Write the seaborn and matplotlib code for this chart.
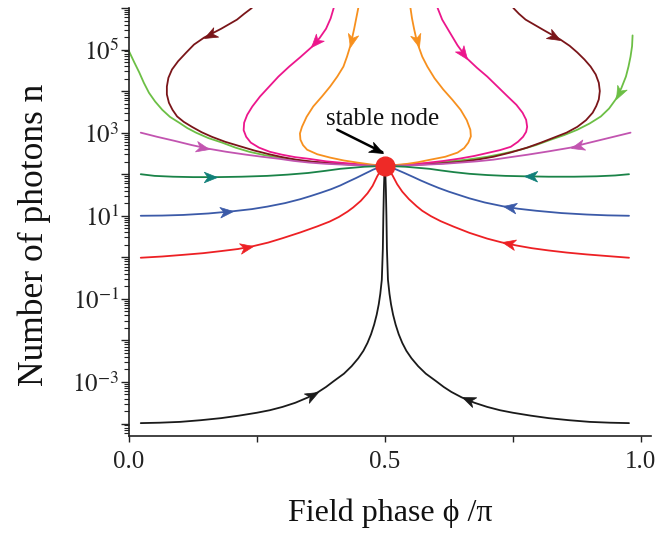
import numpy as np
import matplotlib
matplotlib.use("Agg")
import matplotlib.pyplot as plt
import seaborn as sns
from matplotlib.path import Path
from matplotlib.markers import MarkerStyle
from matplotlib.transforms import Affine2D
from matplotlib.ticker import FixedLocator, FuncFormatter, NullFormatter

# ---------------- data (phase phi/pi, log10 of photon number) ----------------
black_l_phi = [0.023, 0.06, 0.10, 0.14, 0.18, 0.215, 0.25, 0.275, 0.30, 0.325, 0.35, 0.37, 0.385, 0.40, 0.42,
               0.435, 0.448, 0.458, 0.466, 0.473, 0.479, 0.484, 0.488, 0.491, 0.494, 0.496, 0.497, 0.498, 0.499, 0.5]
black_l_lgn = [-3.99, -3.98, -3.96, -3.92, -3.87, -3.81, -3.74, -3.68, -3.6, -3.5, -3.37, -3.24, -3.12, -2.98, -2.80,
               -2.62, -2.43, -2.25, -2.06, -1.85, -1.62, -1.38, -1.13, -0.88, -0.54, 0.2, 1.0, 1.6, 2.0, 2.2]
black_r_phi = [0.977, 0.94, 0.90, 0.86, 0.82, 0.785, 0.75, 0.725, 0.70, 0.675, 0.65, 0.63, 0.615, 0.60, 0.58,
               0.565, 0.552, 0.542, 0.534, 0.527, 0.521, 0.516, 0.512, 0.509, 0.506, 0.504, 0.503, 0.502, 0.501, 0.5]
black_r_lgn = [-3.99, -3.98, -3.96, -3.92, -3.87, -3.81, -3.74, -3.68, -3.6, -3.5, -3.37, -3.24, -3.12, -2.98, -2.80,
               -2.62, -2.43, -2.25, -2.06, -1.85, -1.62, -1.38, -1.13, -0.88, -0.54, 0.2, 1.0, 1.6, 2.0, 2.2]

red_l_phi = [0.023, 0.065, 0.106, 0.145, 0.18, 0.213, 0.243, 0.272, 0.30, 0.335, 0.368, 0.392, 0.41, 0.427,
             0.438, 0.453, 0.466, 0.476, 0.485, 0.493, 0.5]
red_l_lgn = [-0.01, 0.02, 0.06, 0.10, 0.15, 0.20, 0.27, 0.355, 0.46, 0.60, 0.745, 0.86, 0.97, 1.10,
             1.20, 1.36, 1.54, 1.72, 1.95, 2.12, 2.2]
red_r_phi = [0.977, 0.935, 0.894, 0.855, 0.82, 0.787, 0.757, 0.728, 0.70, 0.665, 0.634, 0.609, 0.59, 0.573,
             0.562, 0.547, 0.534, 0.524, 0.515, 0.507, 0.5]
red_r_lgn = [-0.01, 0.03, 0.07, 0.115, 0.165, 0.22, 0.285, 0.36, 0.45, 0.59, 0.74, 0.87, 0.99, 1.12,
             1.23, 1.40, 1.58, 1.76, 1.97, 2.13, 2.2]

blue_l_phi = [0.023, 0.065, 0.106, 0.155, 0.204, 0.24, 0.27, 0.305, 0.335, 0.355, 0.375, 0.395, 0.413, 0.43,
              0.444, 0.462, 0.477, 0.49, 0.5]
blue_l_lgn = [1.0, 1.005, 1.02, 1.055, 1.11, 1.16, 1.22, 1.305, 1.40, 1.475, 1.555, 1.64, 1.73, 1.83,
              1.91, 2.02, 2.11, 2.17, 2.2]
blue_r_phi = [0.977, 0.935, 0.894, 0.845, 0.796, 0.76, 0.73, 0.695, 0.665, 0.645, 0.625, 0.605, 0.587, 0.57,
              0.556, 0.538, 0.523, 0.51, 0.5]
blue_r_lgn = [1.0, 1.01, 1.03, 1.065, 1.12, 1.17, 1.23, 1.32, 1.42, 1.50, 1.58, 1.67, 1.76, 1.85,
              1.93, 2.03, 2.11, 2.17, 2.2]

teal_l_phi = [0.023, 0.05, 0.086, 0.125, 0.172, 0.22, 0.27, 0.31, 0.35, 0.383, 0.413, 0.46, 0.5]
teal_l_lgn = [2.0, 1.96, 1.94, 1.93, 1.93, 1.94, 1.96, 1.99, 2.03, 2.08, 2.13, 2.18, 2.2]
teal_r_phi = [0.977, 0.95, 0.914, 0.87, 0.82, 0.771, 0.735, 0.70, 0.665, 0.635, 0.61, 0.587, 0.54, 0.5]
teal_r_lgn = [2.0, 1.97, 1.95, 1.94, 1.94, 1.95, 1.96, 1.98, 2.01, 2.05, 2.09, 2.13, 2.18, 2.2]

purple_l_phi = [0.023, 0.055, 0.09, 0.123, 0.157, 0.19, 0.229, 0.26, 0.294, 0.322, 0.352, 0.385, 0.42, 0.46, 0.5]
purple_l_lgn = [3.0, 2.9, 2.8, 2.70, 2.61, 2.54, 2.47, 2.42, 2.37, 2.32, 2.28, 2.25, 2.23, 2.21, 2.2]
purple_r_phi = [0.98, 0.95, 0.92, 0.89, 0.863, 0.82, 0.779, 0.745, 0.712, 0.68, 0.648, 0.615, 0.58, 0.54, 0.5]
purple_r_lgn = [3.0, 2.91, 2.82, 2.73, 2.64, 2.55, 2.47, 2.41, 2.35, 2.31, 2.28, 2.25, 2.23, 2.21, 2.2]

green_l_phi = [0.0, 0.01, 0.02, 0.029, 0.039, 0.051, 0.065, 0.08, 0.098, 0.114, 0.131, 0.155, 0.182, 0.208,
               0.235, 0.264, 0.294, 0.322, 0.352, 0.385, 0.42, 0.46, 0.5]
green_l_lgn = [4.96, 4.70, 4.45, 4.20, 3.96, 3.75, 3.55, 3.38, 3.24, 3.11, 3.0, 2.87, 2.76, 2.64,
               2.54, 2.46, 2.40, 2.34, 2.30, 2.27, 2.24, 2.22, 2.2]
green_r_phi = [0.984, 0.983, 0.98, 0.976, 0.971, 0.962, 0.951, 0.938, 0.922, 0.90, 0.876, 0.85, 0.824, 0.795,
               0.765, 0.733, 0.70, 0.66, 0.62, 0.585, 0.55, 0.5]
green_r_lgn = [5.34, 5.08, 4.83, 4.59, 4.35, 4.07, 3.8, 3.58, 3.39, 3.22, 3.07, 2.94, 2.83, 2.70,
               2.59, 2.50, 2.42, 2.35, 2.30, 2.26, 2.23, 2.2]

dred_l_phi = [0.24, 0.225, 0.211, 0.18, 0.147, 0.127, 0.112, 0.096, 0.084, 0.077, 0.074, 0.074, 0.078, 0.085,
              0.094, 0.107, 0.123, 0.142, 0.162, 0.188, 0.215, 0.245, 0.274, 0.30, 0.327, 0.36, 0.40, 0.45, 0.5]
dred_l_lgn = [6.0, 5.86, 5.72, 5.5, 5.29, 5.12, 4.93, 4.72, 4.52, 4.32, 4.11, 3.92, 3.72, 3.55,
              3.39, 3.26, 3.14, 3.01, 2.90, 2.78, 2.68, 2.57, 2.48, 2.41, 2.35, 2.30, 2.26, 2.22, 2.2]
dred_r_phi = [0.751, 0.762, 0.775, 0.81, 0.843, 0.861, 0.876, 0.890, 0.902, 0.912, 0.918, 0.92, 0.918, 0.913,
              0.906, 0.893, 0.876, 0.855, 0.83, 0.805, 0.778, 0.745, 0.712, 0.68, 0.648, 0.61, 0.58, 0.54, 0.5]
dred_r_lgn = [6.0, 5.86, 5.72, 5.47, 5.24, 5.09, 4.93, 4.76, 4.59, 4.40, 4.2, 4.0, 3.8, 3.64,
              3.48, 3.30, 3.14, 3.0, 2.88, 2.76, 2.64, 2.52, 2.42, 2.35, 2.30, 2.26, 2.24, 2.21, 2.2]

pink_l_phi = [0.40, 0.394, 0.385, 0.372, 0.356, 0.335, 0.313, 0.292, 0.274, 0.256, 0.241, 0.231, 0.225, 0.224,
              0.229, 0.238, 0.254, 0.275, 0.299, 0.325, 0.352, 0.385, 0.42, 0.46, 0.5]
pink_l_lgn = [6.0, 5.75, 5.5, 5.27, 5.05, 4.82, 4.59, 4.35, 4.11, 3.87, 3.63, 3.43, 3.24, 3.06,
              2.90, 2.76, 2.64, 2.54, 2.47, 2.41, 2.37, 2.31, 2.27, 2.23, 2.2]
pink_r_phi = [0.603, 0.612, 0.625, 0.642, 0.661, 0.68, 0.70, 0.72, 0.74, 0.757, 0.769, 0.776, 0.778, 0.776,
              0.77, 0.76, 0.746, 0.725, 0.70, 0.675, 0.648, 0.615, 0.58, 0.54, 0.5]
pink_r_lgn = [6.0, 5.72, 5.45, 5.1, 4.78, 4.56, 4.35, 4.11, 3.87, 3.67, 3.48, 3.31, 3.14, 3.02,
              2.90, 2.78, 2.66, 2.58, 2.51, 2.44, 2.38, 2.32, 2.27, 2.23, 2.2]

orange_l_phi = [0.448, 0.444, 0.44, 0.436, 0.432, 0.426, 0.419, 0.407, 0.393, 0.377, 0.36, 0.347, 0.338, 0.334,
                0.335, 0.34, 0.348, 0.368, 0.393, 0.42, 0.446, 0.475, 0.5]
orange_l_lgn = [6.0, 5.75, 5.5, 5.28, 5.07, 4.83, 4.59, 4.35, 4.11, 3.87, 3.63, 3.38, 3.14, 2.98,
                2.83, 2.70, 2.59, 2.48, 2.40, 2.33, 2.28, 2.23, 2.2]
orange_r_phi = [0.55, 0.553, 0.557, 0.561, 0.566, 0.573, 0.583, 0.597, 0.614, 0.632, 0.648, 0.66, 0.667, 0.668,
                0.663, 0.655, 0.642, 0.618, 0.589, 0.565, 0.544, 0.52, 0.5]
orange_r_lgn = [6.0, 5.75, 5.5, 5.28, 5.07, 4.83, 4.59, 4.31, 4.04, 3.79, 3.55, 3.30, 3.07, 2.91,
                2.76, 2.63, 2.52, 2.42, 2.35, 2.29, 2.25, 2.22, 2.2]

node_phi = 0.5
node_lgn = 2.2

x_ticks = [0.0, 0.5, 1.0]
x_tick_labels = ["0.0", "0.5", "1.0"]
y_label_exps = [-3, -1, 1, 3, 5]

# (phi, lgn, line colour, arrow colour, arrow index or None)
curves = [
    (green_l_phi, green_l_lgn, "#6cbf45", "#6cbf45", None),
    (green_r_phi, green_r_lgn, "#6cbf45", "#6cbf45", 6),
    (dred_l_phi, dred_l_lgn, "#7a1519", "#7a1519", 4),
    (dred_r_phi, dred_r_lgn, "#7a1519", "#7a1519", 4),
    (pink_l_phi, pink_l_lgn, "#ec168c", "#ec168c", 4),
    (pink_r_phi, pink_r_lgn, "#ec168c", "#ec168c", 4),
    (orange_l_phi, orange_l_lgn, "#f7901e", "#f7901e", 4),
    (orange_r_phi, orange_r_lgn, "#f7901e", "#f7901e", 4),
    (purple_l_phi, purple_l_lgn, "#c254b0", "#c254b0", 4),
    (purple_r_phi, purple_r_lgn, "#c254b0", "#c254b0", 4),
    (teal_l_phi, teal_l_lgn, "#1a8348", "#108079", 4),
    (teal_r_phi, teal_r_lgn, "#1a8348", "#108079", 5),
    (blue_l_phi, blue_l_lgn, "#3b5aa8", "#3b5aa8", 4),
    (blue_r_phi, blue_r_lgn, "#3b5aa8", "#3b5aa8", 6),
    (red_l_phi, red_l_lgn, "#ed2024", "#ed2024", 6),
    (red_r_phi, red_r_lgn, "#ed2024", "#ed2024", 7),
    (black_l_phi, black_l_lgn, "#1a1a1a", "#1a1a1a", 11),
    (black_r_phi, black_r_lgn, "#1a1a1a", "#1a1a1a", 10),
]

# ---------------- style ----------------
sns.set_theme(style="ticks")
plt.rcParams["font.family"] = ["Liberation Serif", "DejaVu Serif"]
plt.rcParams["mathtext.fontset"] = "stix"

fig = plt.figure(figsize=(6.72, 5.33), dpi=100)
ax = fig.add_axes([129 / 672, 1 - 436 / 533, (651 - 129) / 672, (436 - 8) / 533])

for phi, lgn, col, acol, ai in curves:
    sns.lineplot(x=np.array(phi), y=10.0 ** np.array(lgn), sort=False, estimator=None,
                 color=col, lw=1.3, ax=ax, legend=False, solid_joinstyle="round")

ax.set_yscale("log")
ax.set_xlim(0, 1.02)
ax.set_ylim(10 ** -4.3, 1e6)

# stealth arrowhead marker (tip at origin, pointing +x)
stealth = Path([(0, 0), (-1, 0.40), (-0.72, 0), (-1, -0.40), (0, 0)],
               [Path.MOVETO, Path.LINETO, Path.LINETO, Path.LINETO, Path.CLOSEPOLY])


def head(x_tip, y_tip, x_from, y_from, color, size=19):
    p0 = ax.transData.transform((x_from, y_from))
    p1 = ax.transData.transform((x_tip, y_tip))
    ang = np.degrees(np.arctan2(p1[1] - p0[1], p1[0] - p0[0]))
    m = MarkerStyle(stealth, transform=Affine2D().rotate_deg(ang))
    ax.plot([x_tip], [y_tip], marker=m, ms=size, color=color, mec=color, mew=0.5,
            ls="none", zorder=6)


for phi, lgn, col, acol, ai in curves:
    if ai is None:
        continue
    n = 10.0 ** np.array(lgn)
    head(phi[ai], n[ai], phi[ai - 1], n[ai - 1], acol)

# stable node
ax.plot([node_phi], [10 ** node_lgn], "o", ms=13.5, color="#ee2a27", zorder=7)

# annotation
ax.text(0.496, 10 ** 3.19, "stable node", ha="center", va="baseline", fontsize=18, color="#111111")
ax.plot([0.407, 0.495], [10 ** 3.07, 10 ** 2.53], color="black", lw=1.8, zorder=6)
head(0.497, 10 ** 2.52, 0.407, 10 ** 3.07, "black", size=20)

# ticks
ax.yaxis.set_major_locator(FixedLocator([10.0 ** k for k in range(-4, 7)]))
ax.yaxis.set_major_formatter(FuncFormatter(
    lambda v, p: (r"$10^{%d}$" % int(round(np.log10(v)))) if int(round(np.log10(v))) in y_label_exps else ""))
ax.yaxis.set_minor_locator(FixedLocator([m * 10.0 ** k for k in range(-5, 7) for m in range(2, 10)]))
ax.yaxis.set_minor_formatter(NullFormatter())
ax.set_xticks(x_ticks)
ax.set_xticklabels(x_tick_labels)
ax.set_xticks([0.25, 0.75], minor=True)

ax.tick_params(axis="y", which="major", direction="out", length=6, width=1.0, labelsize=18, pad=1, colors="#222222")
ax.tick_params(axis="y", which="minor", direction="out", length=3.5, width=0.8, colors="#222222")
ax.tick_params(axis="x", which="major", direction="out", length=4.5, width=1.0, labelsize=18, pad=6, colors="#222222")
ax.tick_params(axis="x", which="minor", direction="out", length=4.5, width=1.0, colors="#222222")
for lab in ax.get_xticklabels() + ax.get_yticklabels():
    lab.set_color("#222222")

for s in ["top", "right"]:
    ax.spines[s].set_visible(False)
for s in ["left", "bottom"]:
    ax.spines[s].set_linewidth(1.2)
    ax.spines[s].set_color("#222222")

ax.set_xlabel("Field phase \u03d5 /\u03c0", fontsize=23, color="#111111", labelpad=19)
ax.set_ylabel("Number of photons n", fontsize=25.5, color="#111111")
ax.yaxis.set_label_coords(-0.15, 0.47)

fig.savefig("out.png", dpi=100)
